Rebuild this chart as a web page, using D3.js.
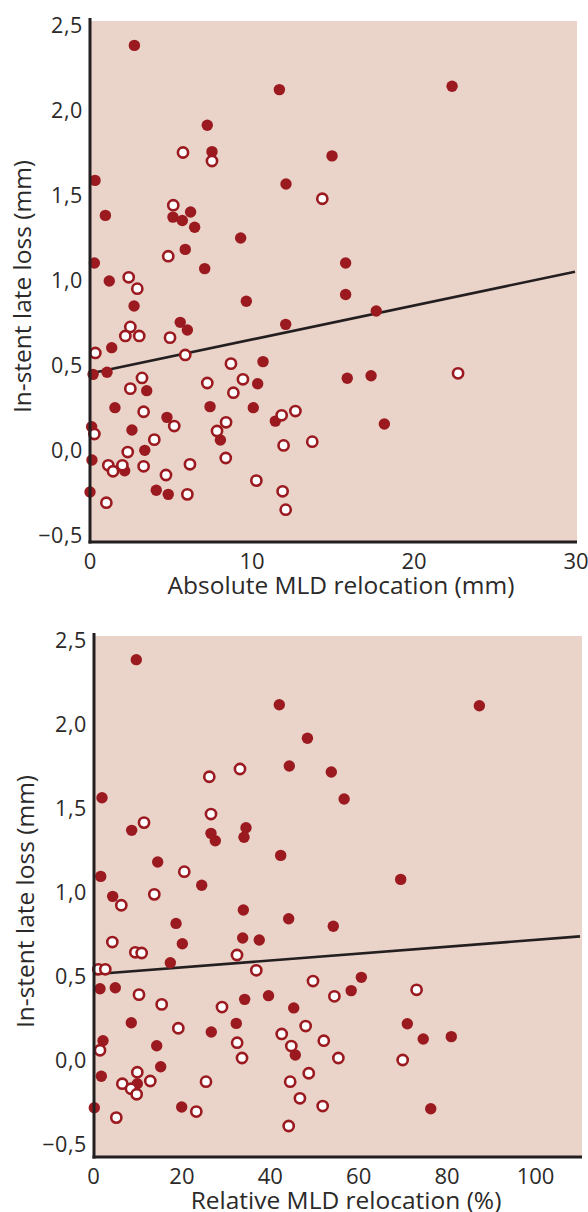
<!DOCTYPE html>
<html>
<head>
<meta charset="utf-8">
<script src="https://cdn.jsdelivr.net/npm/d3@7"></script>
<style>
  body { margin: 0; background: #fff; }
  svg { display: block; }
  text { font-family: "Open Sans", "Liberation Sans", sans-serif; fill: #2b2a29; }
</style>
</head>
<body>
<svg id="chart" width="588" height="1212"></svg>
<script>
// values
let yTicks = [-0.5, 0, 0.5, 1, 1.5, 2, 2.5];
let absTicks = [0, 10, 20, 30];
let relTicks = [0, 20, 40, 60, 80, 100];

// absolute MLD relocation (mm) vs late loss (mm)
let absFilled = [[2.74,2.38],[11.69,2.12],[22.35,2.14],[7.24,1.91],[7.53,1.755],[14.94,1.73],[0.31,1.586],[12.1,1.565],
  [0.95,1.38],[6.21,1.40],[5.12,1.37],[5.70,1.35],[6.46,1.31],[9.30,1.247],[5.88,1.18],[0.27,1.10],[15.78,1.10],
  [7.08,1.067],[1.19,0.994],[15.78,0.915],[9.65,0.875],[2.72,0.847],[17.67,0.818],[5.57,0.751],[12.08,0.739],
  [6.01,0.706],[1.34,0.602],[10.68,0.52],[1.05,0.457],[0.19,0.445],[17.35,0.437],[15.88,0.422],[10.35,0.39],
  [3.50,0.349],[7.41,0.255],[1.54,0.249],[10.08,0.249],[4.75,0.192],[11.44,0.17],[18.17,0.153],[0.10,0.137],
  [2.59,0.118],[8.05,0.059],[3.38,-0.002],[0.12,-0.059],[2.14,-0.122],[4.09,-0.237],[0,-0.247],[4.83,-0.261]];
let absOpen = [[5.74,1.75],[7.53,1.70],[14.34,1.478],[5.14,1.44],[4.83,1.14],[2.39,1.016],[2.92,0.949],[2.49,0.724],
  [2.18,0.671],[3.04,0.671],[4.94,0.661],[0.33,0.571],[5.88,0.559],[8.70,0.508],[22.72,0.451],[3.21,0.424],
  [9.44,0.416],[7.24,0.394],[2.49,0.361],[8.85,0.337],[3.31,0.225],[12.68,0.229],[11.83,0.204],[8.40,0.163],
  [5.2,0.141],[7.84,0.112],[0.27,0.094],[3.97,0.061],[13.72,0.049],[11.95,0.027],[2.33,-0.012],[8.38,-0.047],
  [6.17,-0.084],[1.13,-0.09],[2.0,-0.09],[3.31,-0.096],[1.42,-0.125],[4.69,-0.147],[10.27,-0.18],[11.89,-0.243],
  [6.01,-0.261],[1.01,-0.31],[12.08,-0.351]];
let absFit = [0.45, 0.02]; // intercept, slope

// relative MLD relocation (%) vs late loss (mm)
let relFilled = [[9.68,2.383],[42.04,2.115],[87.3,2.109],[48.4,1.915],[44.3,1.75],[53.8,1.714],[1.92,1.561],[56.7,1.554],
  [34.5,1.383],[8.64,1.367],[26.58,1.349],[34.05,1.326],[27.56,1.305],[42.35,1.218],[14.52,1.179],[1.63,1.093],
  [69.5,1.075],[24.48,1.04],[4.34,0.974],[33.9,0.893],[44.16,0.841],[18.67,0.813],[54.25,0.796],[33.75,0.726],
  [37.5,0.714],[20.1,0.692],[17.38,0.579],[60.6,0.492],[4.93,0.430],[1.47,0.424],[58.3,0.413],[39.6,0.383],
  [34.2,0.361],[45.3,0.310],[8.55,0.222],[32.3,0.218],[71.0,0.216],[26.65,0.167],[80.95,0.139],[74.6,0.125],
  [2.15,0.115],[14.3,0.085],[45.66,0.03],[15.2,-0.04],[1.77,-0.097],[9.91,-0.141],[19.95,-0.28],[0.18,-0.284],[76.3,-0.29]];
let relOpen = [[33.14,1.732],[26.2,1.686],[26.58,1.464],[11.43,1.413],[20.54,1.121],[13.76,0.986],[6.29,0.921],
  [4.26,0.702],[9.46,0.641],[10.9,0.637],[32.47,0.625],[1.09,0.540],[2.67,0.540],[36.83,0.534],[49.66,0.470],
  [73.1,0.418],[10.29,0.389],[54.5,0.379],[15.43,0.331],[29.07,0.315],[48.0,0.202],[19.19,0.189],[42.58,0.155],
  [52.1,0.115],[32.5,0.103],[44.75,0.083],[1.47,0.058],[33.6,0.012],[55.4,0.012],[69.95,0.0],[9.91,-0.073],
  [48.7,-0.079],[12.85,-0.125],[25.45,-0.129],[44.5,-0.129],[6.52,-0.141],[8.48,-0.171],[9.77,-0.204],[46.7,-0.228],
  [51.85,-0.274],[23.26,-0.307],[5.16,-0.343],[44.16,-0.393]];
let relFit = [0.51, 0.00205];

let bg = "#ead3c8", red = "#9b1a20", ink = "#231f20";
let fmt = d => d3.format(".1f")(d).replace(".", ",").replace("-", "\u2212");

let svg = d3.select("#chart");

function panel(opt) {
  let x = d3.scaleLinear().domain(opt.xDomain).range(opt.xRange);
  let y = d3.scaleLinear().domain([-0.5, 2.5]).range(opt.yRange);
  let g = svg.append("g");

  g.append("rect")
    .attr("x", opt.left).attr("y", opt.top)
    .attr("width", opt.right - opt.left).attr("height", opt.bottom - opt.top)
    .attr("fill", bg);

  // fit line, runs to the right edge of the plot
  let xMax = x.invert(opt.right - 2);
  g.append("line")
    .attr("x1", x(0)).attr("y1", y(opt.fit[0]))
    .attr("x2", x(xMax)).attr("y2", y(opt.fit[0] + opt.fit[1] * xMax))
    .attr("stroke", ink).attr("stroke-width", 2.6);

  g.append("g").selectAll("circle")
    .data(opt.filled).enter().append("circle")
    .attr("cx", d => x(d[0])).attr("cy", d => y(d[1]))
    .attr("r", 5.7).attr("fill", red);

  g.append("g").selectAll("circle")
    .data(opt.open).enter().append("circle")
    .attr("cx", d => x(d[0])).attr("cy", d => y(d[1]))
    .attr("r", 5.1).attr("fill", "#fff")
    .attr("stroke", red).attr("stroke-width", 2.6);

  // axis lines
  g.append("line")
    .attr("x1", opt.left - 1).attr("x2", opt.left - 1)
    .attr("y1", opt.top - 3).attr("y2", opt.bottom + 1.5)
    .attr("stroke", ink).attr("stroke-width", 3);
  g.append("line")
    .attr("x1", opt.left - 2.5).attr("x2", opt.right)
    .attr("y1", opt.bottom).attr("y2", opt.bottom)
    .attr("stroke", ink).attr("stroke-width", 3);

  g.append("g").selectAll("text")
    .data(yTicks).enter().append("text")
    .attr("x", opt.left - 8).attr("y", d => y(d) + 7.5)
    .attr("text-anchor", "end").attr("font-size", 21.5)
    .attr("letter-spacing", 0.6)
    .text(fmt);

  g.append("g").selectAll("text")
    .data(opt.xTicks).enter().append("text")
    .attr("x", d => x(d)).attr("y", opt.bottom + 27)
    .attr("text-anchor", "middle").attr("font-size", 22)
    .text(d => d);

  g.append("text")
    .attr("x", opt.titleX).attr("y", opt.bottom + 52)
    .attr("text-anchor", "middle").attr("font-size", 24.5)
    .text(opt.xTitle);

  g.append("text")
    .attr("transform", `translate(${opt.yTitleX},${(opt.top + opt.bottom) / 2 + 5}) rotate(-90)`)
    .attr("text-anchor", "middle").attr("font-size", 24.5)
    .text("In-stent late loss (mm)");
}

panel({
  xDomain: [0, 30], xRange: [90, 576], yRange: [535, 25],
  left: 91, right: 577, top: 21, bottom: 542,
  filled: absFilled, open: absOpen, fit: absFit, xTicks: absTicks,
  xTitle: "Absolute MLD relocation (mm)", titleX: 341, yTitleX: 31
});

panel({
  xDomain: [0, 100], xRange: [93.5, 535.5], yRange: [1144, 640],
  left: 95, right: 582, top: 636, bottom: 1157,
  filled: relFilled, open: relOpen, fit: relFit, xTicks: relTicks,
  xTitle: "Relative MLD relocation (%)", titleX: 346, yTitleX: 34
});
</script>
</body>
</html>
